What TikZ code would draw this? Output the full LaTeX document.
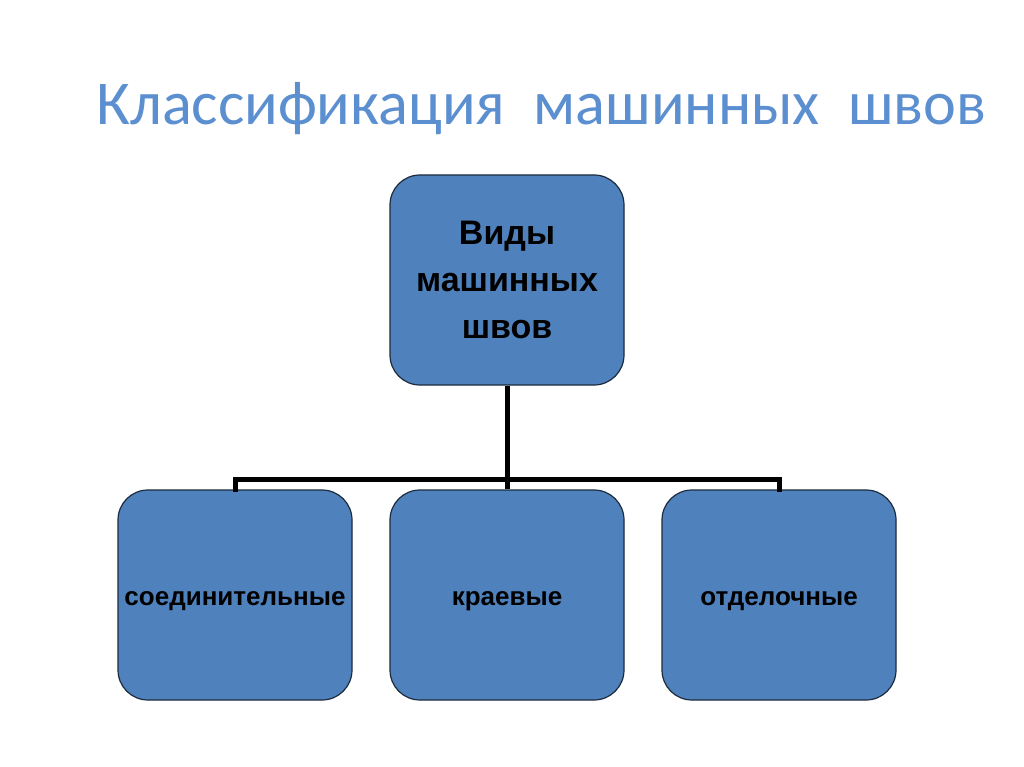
\documentclass[tikz,border=0pt]{standalone}
\usepackage{fontspec}
\setmainfont{Liberation Sans}
\newfontfamily\titlefont{Carlito}
\definecolor{boxfill}{HTML}{4F81BD}
\definecolor{boxline}{HTML}{1C2B3E}
\definecolor{titleblue}{HTML}{5B8FD0}
\newcommand{\lowtext}[1]{\smash{\raisebox{-10pt}{#1}}}
\begin{document}
\begin{tikzpicture}[x=1pt,y=-1pt,
  box/.style={draw=boxline, line width=1.2pt, fill=boxfill, rounded corners=30pt,
    minimum width=234pt, minimum height=210pt, inner sep=0pt, align=center,
    font=\bfseries\fontsize{26}{30}\selectfont},
  link/.style={line width=5pt, draw=black}]
\useasboundingbox[fill=white] (0,0) rectangle (1024,767);
\node[font=\titlefont\fontsize{62.3}{70}\selectfont, text=titleblue, anchor=base west] (title) at (93,125) {Классификация\ \ машинных\ \ швов};
\node[box, font=\bfseries\fontsize{34}{47}\selectfont] (top) at (507,280) {Виды\\машинных\\швов};
\node[box] (b1) at (235,595) {\lowtext{соединительные}};
\node[box] (b2) at (507,595) {\lowtext{краевые}};
\node[box] (b3) at (779,595) {\lowtext{отделочные}};
\coordinate (j) at (507,479);
\draw[link] (top.south) -- (j);
\draw[link, line cap=rect] (b1.north) -- (b1.north |- j) -- (b3.north |- j) -- (b3.north);
\draw[link] (j) -- (b2.north);
\end{tikzpicture}
\end{document}
